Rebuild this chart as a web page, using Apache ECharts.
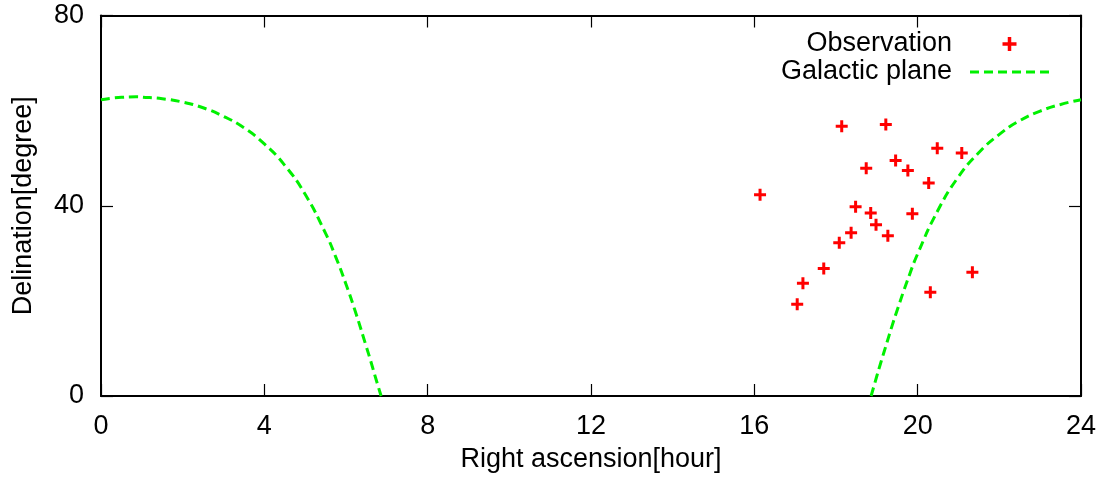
<!DOCTYPE html>
<html>
<head>
<meta charset="utf-8">
<script src="https://cdn.jsdelivr.net/npm/echarts@6/dist/echarts.min.js"></script>
<style>html,body{margin:0;padding:0;background:#fff}#c{width:1102px;height:486px}</style>
</head>
<body>
<div id="c"></div>
<script>
// Observations (right ascension in hours, declination in degrees)
var obsRA  = [16.14, 18.14, 19.22, 20.48, 21.08, 18.74, 19.46, 19.76, 20.27, 18.48, 18.85, 19.87, 18.98, 18.37, 19.27, 18.08, 17.70, 17.19, 17.05, 21.34, 20.31];
var obsDec = [42.3, 56.7, 57.1, 52.1, 51.1, 47.9, 49.5, 47.4, 44.8, 39.8, 38.5, 38.3, 36.0, 34.3, 33.7, 32.2, 26.8, 23.7, 19.3, 26.0, 21.8];

// Galactic plane
var galLeftRA  = [0, 0.5, 0.86, 1, 1.5, 2, 2.5, 3, 3.5, 4, 4.5, 5, 5.5, 5.75, 6, 6.25, 6.5, 6.6, 6.75, 6.86];
var galLeftDec = [62.3, 62.8, 62.9, 62.85, 62.5, 61.8, 60.6, 58.8, 56.4, 53.0, 48.5, 42.4, 34.2, 29.2, 23.5, 17.2, 10.3, 7.5, 3.1, 0];
var galRightRA  = [18.86, 19, 19.1, 19.25, 19.375, 19.5, 19.75, 20, 20.5, 21, 21.5, 22, 22.5, 23, 23.5, 24];
var galRightDec = [0, 4.2, 7.1, 11.3, 14.8, 18.1, 24.3, 29.9, 39.1, 46.1, 51.2, 55.0, 57.9, 59.9, 61.3, 62.3];

var xTicks = [0, 4, 8, 12, 16, 20, 24];
var yTicks = [0, 40, 80];
var legendNames = ['Observation', 'Galactic plane'];

function pairs(a, b) { return a.map(function (v, i) { return [v, b[i]]; }); }

var FONT = "'Liberation Sans', Arial, Helvetica, sans-serif";
var FS = 27;
var RED = '#ff0000';
var GREEN = '#00f000';
var plus = 'path://M4.5,0H7.5V4.5H12V7.5H7.5V12H4.5V7.5H0V4.5H4.5Z';
var dashIcon = 'path://M0,0h9v3h-9z M14,0h9v3h-9z M28,0h9v3h-9z M42,0h9v3h-9z M56,0h9v3h-9z M70,0h9v3h-9z';

var chart = echarts.init(document.getElementById('c'), null, {renderer: 'canvas'});
function axisLine() { return {show: true, onZero: false, lineStyle: {color: '#000', width: 2}}; }
function tick() { return {show: true, inside: true, length: 12, lineStyle: {color: '#000', width: 1.2}}; }
chart.setOption({
  animation: false,
  backgroundColor: '#fff',
  textStyle: {fontFamily: FONT},
  grid: {left: 101, right: 21, top: 15.5, bottom: 90, containLabel: false},
  legend: {
    orient: 'vertical',
    align: 'right',
    right: 48,
    top: 25,
    itemWidth: 79,
    itemHeight: 14,
    itemGap: 0,
    selectedMode: false,
    textStyle: {fontFamily: FONT, fontSize: FS, color: '#000', lineHeight: 28, padding: [0, 13, 0, 0]},
    data: [
      {name: legendNames[0]},
      {name: legendNames[1], icon: dashIcon, itemStyle: {color: GREEN}}
    ]
  },
  xAxis: [{
    type: 'value', min: 0, max: 24, interval: 4, position: 'bottom',
    name: 'Right ascension[hour]', nameLocation: 'middle', nameGap: 50,
    nameTextStyle: {fontFamily: FONT, fontSize: FS, color: '#000'},
    axisLine: axisLine(), axisTick: tick(), splitLine: {show: false},
    axisLabel: {fontFamily: FONT, fontSize: FS, color: '#000', margin: 17,
      formatter: function (v) { return xTicks.indexOf(v) >= 0 ? String(v) : ''; }}
  }, {
    type: 'value', min: 0, max: 24, interval: 4, position: 'top',
    axisLine: axisLine(), axisTick: tick(), splitLine: {show: false}, axisLabel: {show: false}
  }],
  yAxis: [{
    type: 'value', min: 0, max: 80, interval: 40, position: 'left',
    name: 'Delination[degree]', nameLocation: 'middle', nameGap: 64,
    nameTextStyle: {fontFamily: FONT, fontSize: FS, color: '#000'},
    axisLine: axisLine(), axisTick: tick(), splitLine: {show: false},
    axisLabel: {fontFamily: FONT, fontSize: FS, color: '#000', margin: 17,
      formatter: function (v) { return yTicks.indexOf(v) >= 0 ? String(v) : ''; }}
  }, {
    type: 'value', min: 0, max: 80, interval: 40, position: 'right',
    axisLine: axisLine(), axisTick: tick(), splitLine: {show: false}, axisLabel: {show: false}
  }],
  series: [{
    name: legendNames[0], type: 'scatter', xAxisIndex: 0, yAxisIndex: 0,
    symbol: plus, symbolSize: 12, symbolKeepAspect: true,
    itemStyle: {color: RED, opacity: 1},
    data: pairs(obsRA, obsDec)
  }, {
    name: legendNames[1], type: 'line', xAxisIndex: 0, yAxisIndex: 0,
    symbol: 'none', smooth: true, clip: true,
    lineStyle: {color: GREEN, width: 3, type: [9, 5]},
    itemStyle: {color: GREEN},
    data: pairs(galLeftRA, galLeftDec)
  }, {
    name: legendNames[1], type: 'line', xAxisIndex: 0, yAxisIndex: 0,
    symbol: 'none', smooth: true, clip: true,
    lineStyle: {color: GREEN, width: 3, type: [9, 5]},
    itemStyle: {color: GREEN},
    data: pairs(galRightRA, galRightDec)
  }]
});
</script>
</body>
</html>
